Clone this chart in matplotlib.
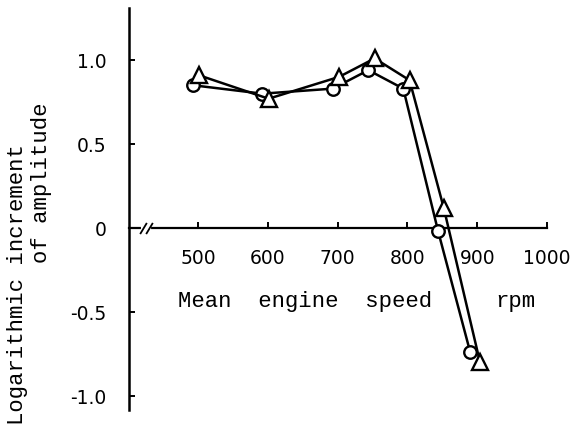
import numpy as np
import matplotlib
matplotlib.use("Agg")
import matplotlib.pyplot as plt

# values (circles and triangles)
circle_rpm = [493, 592, 693, 744, 794, 844, 890]
circle_val = [0.85, 0.80, 0.83, 0.94, 0.83, -0.02, -0.74]
tri_rpm = [501, 601, 702, 753, 803, 852, 904]
tri_val = [0.91, 0.77, 0.90, 1.01, 0.88, 0.12, -0.80]

x_ticks = [500, 600, 700, 800, 900, 1000]
y_ticks = [1.0, 0.5, 0.0, -0.5, -1.0]
y_ticklabels = ["1.0", "0.5", "0", "-0.5", "-1.0"]

plt.rcParams["font.family"] = ["DejaVu Sans"]

W, H = 574, 428
fig = plt.figure(figsize=(W / 100, H / 100), dpi=100)
ax = fig.add_axes([129 / W, 1 - 410 / H, (561 - 129) / W, 402 / H])

ax.set_xlim(401, 1020)
ax.set_ylim(-1.083, 1.31)

for s in ["top", "right"]:
    ax.spines[s].set_visible(False)
ax.spines["bottom"].set_position(("data", 0))
ax.spines["bottom"].set_bounds(401, 1000)
ax.spines["left"].set_linewidth(1.8)
ax.spines["bottom"].set_linewidth(1.6)

ax.set_xticks(x_ticks)
ax.set_xticklabels([str(v) for v in x_ticks])
ax.set_yticks(y_ticks)
ax.set_yticklabels(y_ticklabels)
ax.tick_params(axis="x", direction="in", length=4, width=1.4, pad=15,
               labelsize=13.5)
ax.tick_params(axis="y", direction="in", length=4, width=1.4, pad=16,
               labelsize=13.5)

# axis break marks near the left end of the x axis
brk_x = [421, 429]
ax.plot(brk_x, [0, 0], color="white", lw=3, zorder=3, clip_on=False)
ax.plot(brk_x, [0, 0], ls="none", marker=[(-0.6, -1), (0.6, 1)],
        markersize=8, mew=1.3, color="black", zorder=4, clip_on=False)

ax.plot(circle_rpm, circle_val, color="black", lw=1.8, marker="o",
        markersize=9, mfc="white", mec="black", mew=1.7, zorder=5, clip_on=False)
ax.plot(tri_rpm, tri_val, color="black", lw=1.8, marker="^",
        markersize=11, mfc="white", mec="black", mew=1.7, zorder=6, clip_on=False)

mono = dict(family="Liberation Mono", size=16)
fig.text(18 / W, 1 - 285 / H, "Logarithmic increment", rotation=90,
         ha="center", va="center", **mono)
fig.text(42 / W, 1 - 183 / H, "of amplitude", rotation=90,
         ha="center", va="center", **mono)
fig.text(178 / W, 1 - 307 / H, "Mean  engine  speed", ha="left",
         va="baseline", **mono)
fig.text(495 / W, 1 - 307 / H, "rpm", ha="left", va="baseline", **mono)

fig.savefig("out.png", dpi=100)
